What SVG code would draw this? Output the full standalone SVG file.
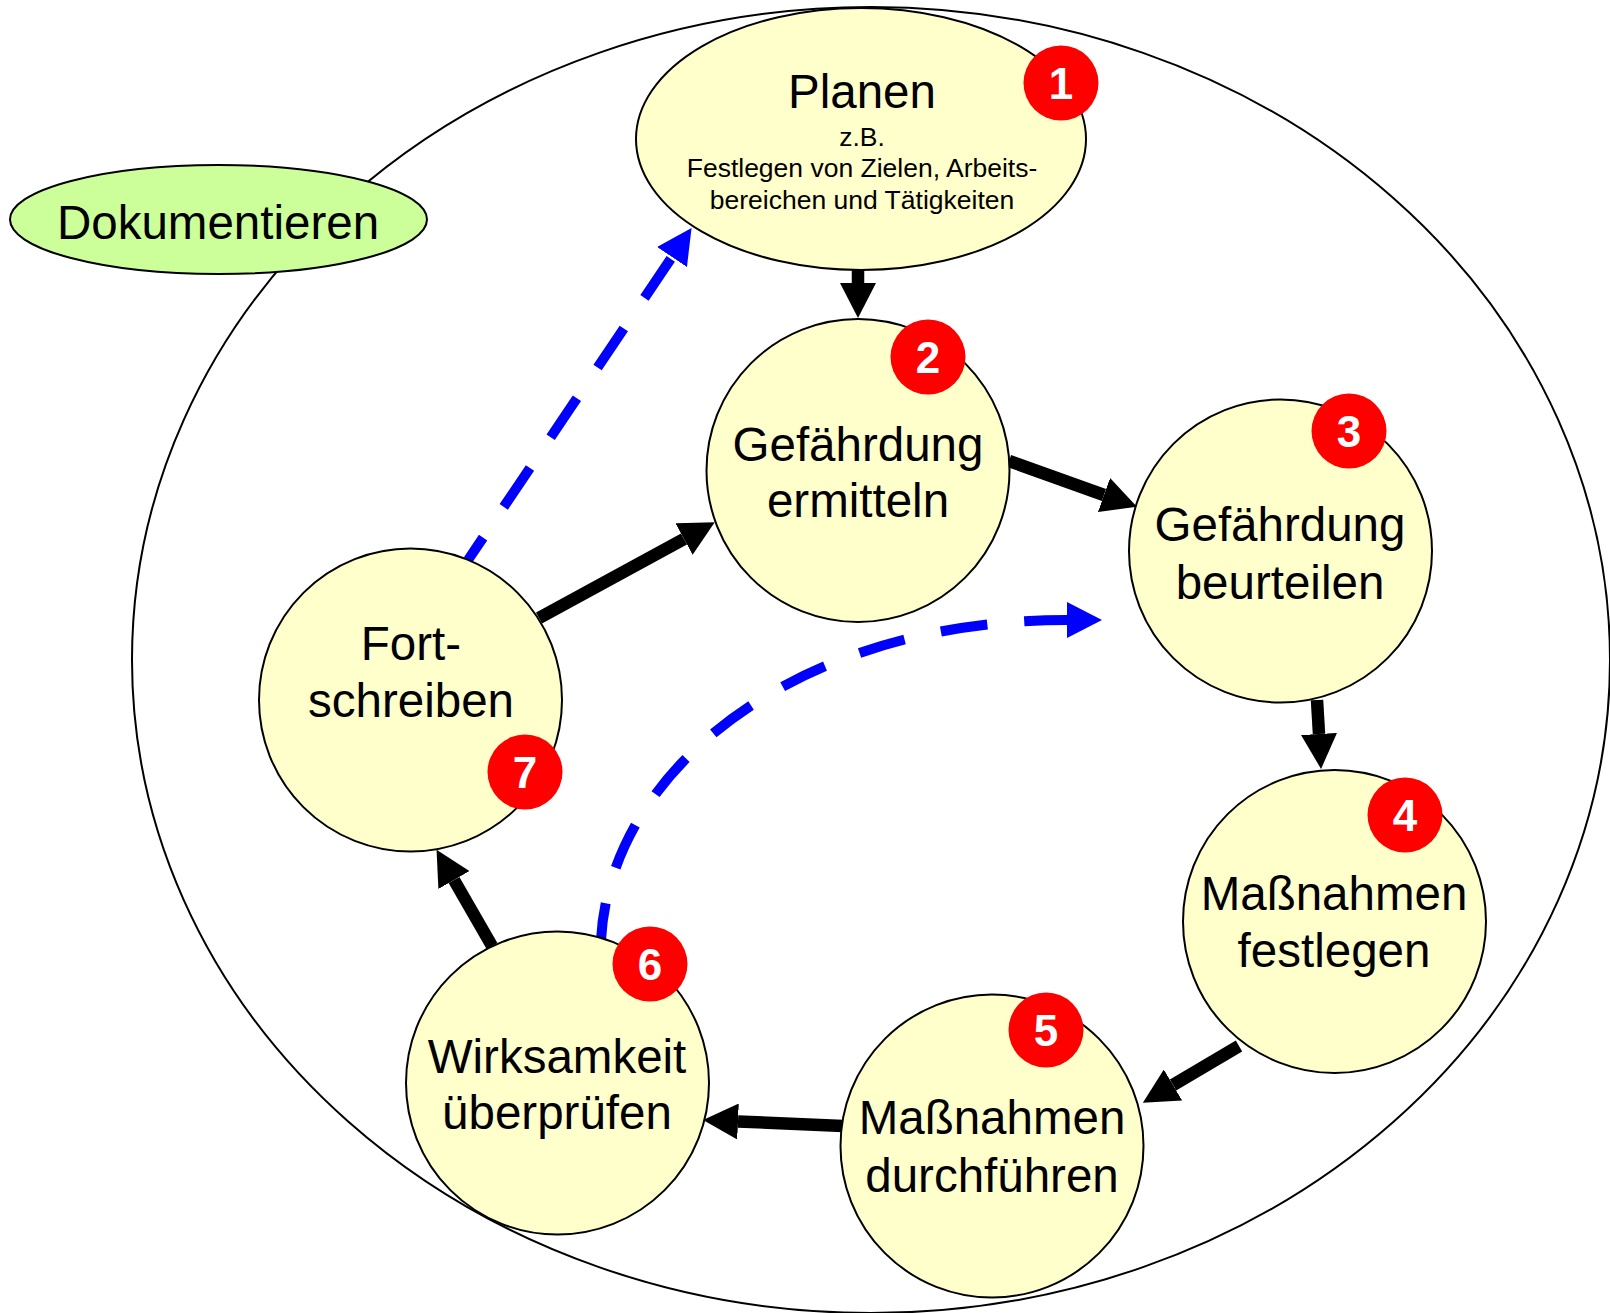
<svg xmlns="http://www.w3.org/2000/svg" width="1610" height="1313" viewBox="0 0 1610 1313">
  <style>
    .node { fill: #ffffcc; stroke: #000; stroke-width: 2; }
    .doc { fill: #ccff99; stroke: #000; stroke-width: 2; }
    .outer { fill: #fff; stroke: #000; stroke-width: 2; }
    .badge { fill: #ff0000; stroke: none; }
    .lbl { font-family: "Liberation Sans", Arial, sans-serif; font-size: 47.5px; fill: #000; text-anchor: middle; }
    .small { font-family: "Liberation Sans", Arial, sans-serif; font-size: 26.5px; fill: #000; text-anchor: middle; }
    .num { font-family: "Liberation Sans", Arial, sans-serif; font-size: 44px; font-weight: bold; fill: #fff; text-anchor: middle; }
    .arrow { fill: none; stroke: #000; stroke-width: 12.5; marker-end: url(#ahBlack); }
    .dash { fill: none; stroke: #0000ff; stroke-width: 10; stroke-dasharray: 47 37; marker-end: url(#ahBlue); }
  </style>
  <defs>
    <marker id="ahBlack" markerUnits="userSpaceOnUse" markerWidth="35" markerHeight="36" viewBox="0 0 35 36" refX="0" refY="18" orient="auto">
      <path d="M0,0 L35,18 L0,36 z" fill="#000"/>
    </marker>
    <marker id="ahBlue" markerUnits="userSpaceOnUse" markerWidth="35" markerHeight="36" viewBox="0 0 35 36" refX="0" refY="18" orient="auto">
      <path d="M0,0 L35,18 L0,36 z" fill="#0000ff"/>
    </marker>
  </defs>

  <rect x="0" y="0" width="1610" height="1313" fill="#fff"/>

  <g id="outer-cycle">
    <ellipse class="outer" cx="871" cy="660" rx="739" ry="653"/>
  </g>

  <g id="dokumentieren">
    <ellipse class="doc" cx="218.5" cy="219.5" rx="208.5" ry="54.5"/>
    <text class="lbl" x="218" y="239">Dokumentieren</text>
  </g>

  <g id="connectors">
    <path class="arrow" d="M858,268 L858,283"/>
    <path class="arrow" d="M1009,461 L1104,495"/>
    <path class="arrow" d="M1317,700 L1319,734"/>
    <path class="arrow" d="M1239,1046 L1173,1085"/>
    <path class="arrow" d="M843,1126 L738,1121.5"/>
    <path class="arrow" d="M492,946 L454,880"/>
    <path class="arrow" d="M539,618 L684,539"/>
    <path class="dash" stroke-dashoffset="20" d="M468,560 L672,257"/>
    <path class="dash" stroke-dashoffset="10" d="M601,940 C610,770 795,620 1067,620"/>
  </g>

  <g id="node1-planen">
    <ellipse class="node" cx="861" cy="139" rx="225" ry="131"/>
    <text class="lbl" x="862" y="108">Planen</text>
    <text class="small" x="862" y="146">z.B.</text>
    <text class="small" x="862" y="177">Festlegen von Zielen, Arbeits-</text>
    <text class="small" x="862" y="209">bereichen und Tätigkeiten</text>
    <circle class="badge" cx="1061" cy="83" r="37.5"/>
    <text class="num" x="1061" y="99">1</text>
  </g>

  <g id="node2-ermitteln">
    <circle class="node" cx="858" cy="470.5" r="151.5"/>
    <text class="lbl" x="858" y="461">Gefährdung</text>
    <text class="lbl" x="858" y="517">ermitteln</text>
    <circle class="badge" cx="928" cy="357" r="37.5"/>
    <text class="num" x="928" y="373">2</text>
  </g>

  <g id="node3-beurteilen">
    <circle class="node" cx="1280.5" cy="551" r="151.5"/>
    <text class="lbl" x="1280" y="541">Gefährdung</text>
    <text class="lbl" x="1280" y="599">beurteilen</text>
    <circle class="badge" cx="1349" cy="431" r="37.5"/>
    <text class="num" x="1349" y="447">3</text>
  </g>

  <g id="node4-festlegen">
    <circle class="node" cx="1334.5" cy="921.5" r="151.5"/>
    <text class="lbl" x="1334" y="910">Maßnahmen</text>
    <text class="lbl" x="1334" y="967">festlegen</text>
    <circle class="badge" cx="1405" cy="815" r="37.5"/>
    <text class="num" x="1405" y="831">4</text>
  </g>

  <g id="node5-durchfuehren">
    <circle class="node" cx="992" cy="1146" r="151.5"/>
    <text class="lbl" x="992" y="1134">Maßnahmen</text>
    <text class="lbl" x="992" y="1192">durchführen</text>
    <circle class="badge" cx="1046" cy="1030" r="37.5"/>
    <text class="num" x="1046" y="1046">5</text>
  </g>

  <g id="node6-wirksamkeit">
    <circle class="node" cx="557.5" cy="1083" r="151.5"/>
    <text class="lbl" x="557" y="1073">Wirksamkeit</text>
    <text class="lbl" x="557" y="1129">überprüfen</text>
    <circle class="badge" cx="650" cy="964" r="37.5"/>
    <text class="num" x="650" y="980">6</text>
  </g>

  <g id="node7-fortschreiben">
    <circle class="node" cx="410.5" cy="700" r="151.5"/>
    <text class="lbl" x="411" y="660">Fort-</text>
    <text class="lbl" x="411" y="717">schreiben</text>
    <circle class="badge" cx="525" cy="772" r="37.5"/>
    <text class="num" x="525" y="788">7</text>
  </g>
</svg>
